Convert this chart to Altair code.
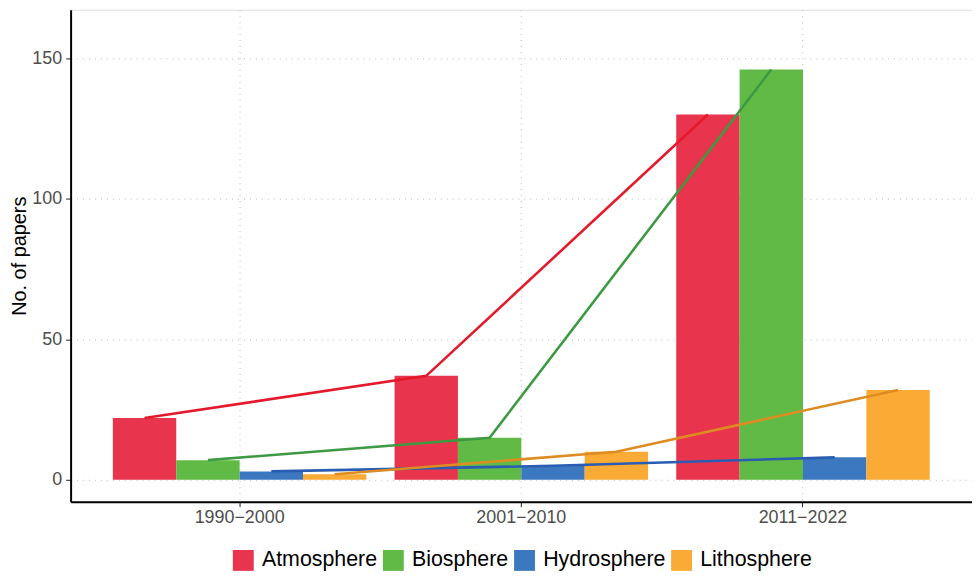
import altair as alt
import pandas as pd

periods = ["1990\u22122000", "2001\u22122010", "2011\u22122022"]
spheres = ["Atmosphere", "Biosphere", "Hydrosphere", "Lithosphere"]
atmosphere = [22, 37, 130]
biosphere = [7, 15, 146]
hydrosphere = [3, 5, 8]
lithosphere = [2, 10, 32]

bar_colors = ["#E8344C", "#62BA46", "#3C78C0", "#FAAB35"]
line_colors = ["#E41A2C", "#3E9A42", "#2A5DB2", "#DE8C22"]

rows = []
for s, vals in zip(spheres, [atmosphere, biosphere, hydrosphere, lithosphere]):
    for p, v in zip(periods, vals):
        rows.append({"period": p, "sphere": s, "papers": v})
df = pd.DataFrame(rows)

FONT = "Liberation Sans"

x_enc = alt.X("period:N", sort=periods, title=None,
              scale=alt.Scale(paddingInner=0.1, paddingOuter=0.15),
              axis=alt.Axis(labelAngle=0, labelFontSize=18, labelColor="#4d4d4d",
                            labelFont=FONT, labelPadding=2, tickSize=5,
                            tickColor="#222222", tickWidth=1,
                            domainColor="#000000", domainWidth=2,
                            grid=True, gridColor="#c4c4c4", gridDash=[1, 5],
                            gridWidth=1.2))
xo_enc = alt.XOffset("sphere:N", sort=spheres, scale=alt.Scale(paddingInner=0, paddingOuter=0))
y_enc = alt.Y("papers:Q", title="No. of papers",
              scale=alt.Scale(domain=[-7.78, 167.3], nice=False, zero=False),
              axis=alt.Axis(values=[0, 50, 100, 150], labelFontSize=18,
                            labelColor="#4d4d4d", labelFont=FONT, labelPadding=4,
                            tickSize=5, tickColor="#222222", tickWidth=1,
                            domainColor="#000000", domainWidth=2,
                            titleFont=FONT, titleFontSize=20, titleFontWeight="normal",
                            titleColor="#000000", titlePadding=2,
                            grid=True, gridColor="#c4c4c4", gridDash=[1, 5],
                            gridWidth=1.2))

bars = alt.Chart(df).mark_bar(stroke=None).encode(
    x=x_enc,
    xOffset=xo_enc,
    y=y_enc,
    y2=alt.datum(0),
    color=alt.Color("sphere:N", sort=spheres,
                    scale=alt.Scale(domain=spheres, range=bar_colors),
                    legend=alt.Legend(title=None, orient="none", direction="horizontal",
                                      legendX=163, legendY=543,
                                      symbolType="square", symbolSize=441,
                                      symbolStrokeWidth=0, symbolOpacity=1,
                                      labelFont=FONT, labelFontSize=21.5,
                                      labelColor="#000000", labelOffset=8,
                                      columnPadding=5)),
)

lines = alt.Chart(df).mark_line(strokeWidth=2.6).encode(
    x=alt.X("period:N", sort=periods),
    xOffset=alt.XOffset("sphere:N", sort=spheres),
    y=alt.Y("papers:Q"),
    stroke=alt.Stroke("sphere:N", sort=spheres,
                      scale=alt.Scale(domain=spheres, range=line_colors),
                      legend=None),
    detail="sphere:N",
)

chart = alt.layer(bars, lines).resolve_scale(color="independent").properties(
    width=907, height=495,
    autosize=alt.AutoSizeParams(type="none"),
    padding={"left": 63, "top": 0, "right": 0, "bottom": 68},
).configure_view(stroke=None).configure(background="white")

chart.save("out.html", embed_options={"renderer": "svg", "actions": False})
